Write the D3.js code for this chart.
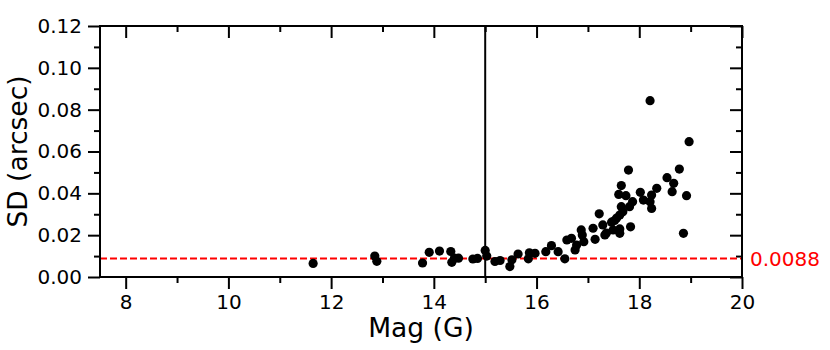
<!DOCTYPE html>
<html>
<head>
<meta charset="utf-8">
<script src="https://cdn.jsdelivr.net/npm/d3@7"></script>
<style>
  html, body { margin: 0; padding: 0; background: #fff; }
  text { font-family: "DejaVu Sans", sans-serif; }
</style>
</head>
<body>
<svg id="chart" width="830" height="350"></svg>
<script>
// ---- Data ----
const mags = [11.65, 12.85, 12.89, 13.78, 13.91, 14.11, 14.33, 14.35, 14.40, 14.48,
  14.76, 14.85, 15.00, 15.03, 15.19, 15.29, 15.48, 15.52, 15.64, 15.84,
  15.86, 15.97, 16.18, 16.29, 16.42, 16.55, 16.59, 16.68, 16.75, 16.78,
  16.87, 16.89, 16.92, 17.10, 17.14, 17.22, 17.29, 17.33, 17.36, 17.46,
  17.49, 17.52, 17.56, 17.60, 17.62, 17.62, 17.62, 17.65, 17.65, 17.68,
  17.74, 17.79, 17.81, 17.83, 17.87, 18.02, 18.08, 18.21, 18.21, 18.24,
  18.24, 18.34, 18.54, 18.64, 18.67, 18.78, 18.86, 18.92, 18.97];
const sds = [0.0065, 0.0100, 0.0075, 0.0067, 0.0118, 0.0124, 0.0122, 0.0070, 0.0090, 0.0090,
  0.0086, 0.0089, 0.0127, 0.0100, 0.0074, 0.0079, 0.0050, 0.0082, 0.0110, 0.0087,
  0.0116, 0.0113, 0.0121, 0.0150, 0.0121, 0.0087, 0.0177, 0.0185, 0.0129, 0.0153,
  0.0225, 0.0201, 0.0169, 0.0233, 0.0180, 0.0302, 0.0249, 0.0201, 0.0210, 0.0262,
  0.0225, 0.0270, 0.0282, 0.0395, 0.0296, 0.0209, 0.0230, 0.0437, 0.0336, 0.0312,
  0.0389, 0.0511, 0.0336, 0.0240, 0.0360, 0.0405, 0.0368, 0.0360, 0.0843, 0.0392,
  0.0328, 0.0424, 0.0475, 0.0408, 0.0448, 0.0516, 0.0209, 0.0389, 0.0647];
const xMajorTicks = [8, 10, 12, 14, 16, 18, 20];
const xMinorTicks = [9, 11, 13, 15, 17, 19];
const yMajorTicks = [0, 0.02, 0.04, 0.06, 0.08, 0.10, 0.12];
const yMinorTicks = [0.01, 0.03, 0.05, 0.07, 0.09, 0.11];
const xDomain = [7.5, 20];
const yDomain = [0, 0.12];
const thresholdValue = 0.0088;
const thresholdLabel = "0.0088";
const cutMag = 15;
const xLabel = "Mag (G)";
const yLabel = "SD (arcsec)";

// ---- Layout ----
const L = 100, R = 742, T = 26, B = 277;
const svg = d3.select("#chart");
const x = d3.scaleLinear().domain(xDomain).range([L, R]);
const y = d3.scaleLinear().domain(yDomain).range([B, T]);

const MAJ = 12, MIN = 6;
function styleAxis(g) {
  g.select(".domain").remove();
  g.selectAll("line").attr("stroke", "#000").attr("stroke-width", 2);
  g.selectAll("text").attr("font-size", 20).attr("fill", "#000")
   .attr("font-family", "DejaVu Sans, sans-serif");
}

// bottom
svg.append("g").attr("transform", `translate(0,${B})`)
  .call(d3.axisBottom(x).tickValues(xMajorTicks).tickFormat(d3.format("d")).tickSize(MAJ).tickPadding(6))
  .call(styleAxis);
svg.append("g").attr("transform", `translate(0,${B})`)
  .call(d3.axisBottom(x).tickValues(xMinorTicks).tickFormat("").tickSize(MIN))
  .call(styleAxis);
// left
svg.append("g").attr("transform", `translate(${L},0)`)
  .call(d3.axisLeft(y).tickValues(yMajorTicks).tickFormat(d3.format(".2f")).tickSize(MAJ).tickPadding(6))
  .call(styleAxis);
svg.append("g").attr("transform", `translate(${L},0)`)
  .call(d3.axisLeft(y).tickValues(yMinorTicks).tickFormat("").tickSize(MIN))
  .call(styleAxis);
// top (inward)
svg.append("g").attr("transform", `translate(0,${T})`)
  .call(d3.axisBottom(x).tickValues(xMajorTicks).tickFormat("").tickSize(MAJ))
  .call(styleAxis);
svg.append("g").attr("transform", `translate(0,${T})`)
  .call(d3.axisBottom(x).tickValues(xMinorTicks).tickFormat("").tickSize(MIN))
  .call(styleAxis);
// right (inward)
svg.append("g").attr("transform", `translate(${R},0)`)
  .call(d3.axisLeft(y).tickValues(yMajorTicks).tickFormat("").tickSize(MAJ))
  .call(styleAxis);
svg.append("g").attr("transform", `translate(${R},0)`)
  .call(d3.axisLeft(y).tickValues(yMinorTicks).tickFormat("").tickSize(MIN))
  .call(styleAxis);

// threshold dashed line
svg.append("line")
  .attr("x1", x(xDomain[0])).attr("x2", x(xDomain[1]))
  .attr("y1", y(thresholdValue)).attr("y2", y(thresholdValue))
  .attr("stroke", "#ff0000").attr("stroke-width", 2)
  .attr("stroke-dasharray", "7,3");

// vertical cut line
svg.append("line")
  .attr("x1", x(cutMag)).attr("x2", x(cutMag))
  .attr("y1", y(yDomain[0])).attr("y2", y(yDomain[1]))
  .attr("stroke", "#000").attr("stroke-width", 2);

// points
const pts = mags.map((m, i) => ({ m, s: sds[i] }));
svg.append("g").selectAll("circle").data(pts).join("circle")
  .attr("cx", d => x(d.m)).attr("cy", d => y(d.s))
  .attr("r", 4.6).attr("fill", "#000");

// frame
svg.append("rect")
  .attr("x", L).attr("y", T).attr("width", R - L).attr("height", B - T)
  .attr("fill", "none").attr("stroke", "#000").attr("stroke-width", 2);

// threshold label
svg.append("text")
  .attr("x", R + 8).attr("y", y(thresholdValue))
  .attr("dy", "0.35em")
  .attr("font-size", 20).attr("fill", "#ff0000")
  .text(thresholdLabel);

// axis labels
svg.append("text")
  .attr("x", (L + R) / 2).attr("y", 337)
  .attr("text-anchor", "middle").attr("font-size", 26.5).attr("fill", "#000")
  .text(xLabel);
svg.append("text")
  .attr("transform", `translate(27,${(T + B) / 2}) rotate(-90)`)
  .attr("text-anchor", "middle").attr("font-size", 26.5).attr("fill", "#000")
  .text(yLabel);
</script>
</body>
</html>
